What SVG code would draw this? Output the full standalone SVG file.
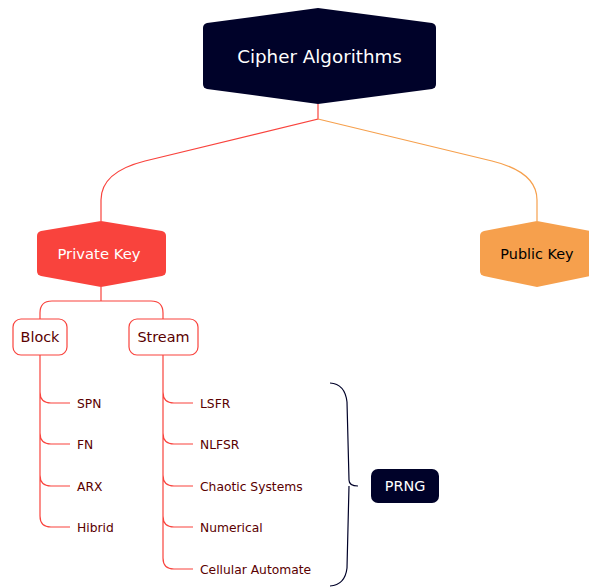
<svg xmlns="http://www.w3.org/2000/svg" width="589" height="587" viewBox="0 0 589 587">
<style>
text{font-family:"DejaVu Sans","Liberation Sans",sans-serif;}
.red{stroke:#f9433d;fill:none;stroke-width:1.2}
.org{stroke:#f6a04d;fill:none;stroke-width:1.2}
.leaf{font-size:12.3px;fill:#5a0000}
.sub{fill:#fff;stroke:#f9433d;stroke-width:1.2}
.subt{font-size:14.4px;fill:#5a0000;text-anchor:middle}
</style>
<rect width="589" height="587" fill="#fff"/>
<g id="connectors">
<path class="red" d="M318,104 V119 L145,161 Q101,172 101,200 V221"/>
<path class="org" d="M318,119 L492,161 Q537,172 537,200 V221"/>
<path class="red" d="M101,287 V301 H52 Q40,301 40,313 V319 M101,301 H151 Q163,301 163,313 V319"/>
<path class="red" d="M40,355 V392 Q40,403 51,403 H70 M40,392 V433 Q40,444 51,444 H70 M40,433 V475 Q40,486 51,486 H70 M40,475 V516 Q40,527 51,527 H70"/>
<path class="red" d="M163,355 V392 Q163,403 174,403 H193 M163,392 V433 Q163,444 174,444 H193 M163,433 V475 Q163,486 174,486 H193 M163,475 V516 Q163,527 174,527 H193 M163,516 V558 Q163,569 174,569 H193"/>
<path d="M330,383 Q345,384 347,402 L349,480 Q349,486 358,486 M349,486 L347,568 Q345,585 330,586" fill="none" stroke="#000229" stroke-width="1.2"/>
</g>
<g id="root">
<path d="M318,8 L432,23 Q436,24 436,28 V84 Q436,88 432,89 L318,104 L207,89 Q203,88 203,84 V28 Q203,24 207,23 Z" fill="#000229"/>
<text x="319.5" y="63" font-size="18.3" fill="#fff" text-anchor="middle">Cipher Algorithms</text>
</g>
<g id="private-key">
<path d="M101,221 L162,231 Q166,232 166,236 V271 Q166,275 162,276 L101,287 L41,276 Q37,275 37,271 V236 Q37,232 41,231 Z" fill="#f9433d"/>
<text x="99" y="259" font-size="14.8" fill="#fff" text-anchor="middle">Private Key</text>
</g>
<g id="public-key">
<path d="M537,221 L590,231 Q594,232 594,236 V271 Q594,275 590,276 L537,287 L484,276 Q480,275 480,271 V236 Q480,232 484,231 Z" fill="#f6a04d"/>
<text x="537" y="259" font-size="14.4" fill="#000" text-anchor="middle">Public Key</text>
</g>
<g id="block">
<rect class="sub" x="13" y="319" width="54" height="36" rx="8"/>
<text class="subt" x="40" y="342">Block</text>
</g>
<g id="stream">
<rect class="sub" x="129" y="319" width="69" height="36" rx="8"/>
<text class="subt" x="163.5" y="342">Stream</text>
</g>
<g id="spn"><text class="leaf" x="77" y="408">SPN</text></g>
<g id="fn"><text class="leaf" x="77" y="449">FN</text></g>
<g id="arx"><text class="leaf" x="77" y="491">ARX</text></g>
<g id="hibrid"><text class="leaf" x="77" y="532">Hibrid</text></g>
<g id="lsfr"><text class="leaf" x="200" y="408">LSFR</text></g>
<g id="nlfsr"><text class="leaf" x="200" y="449">NLFSR</text></g>
<g id="chaotic"><text class="leaf" x="200" y="491">Chaotic Systems</text></g>
<g id="numerical"><text class="leaf" x="200" y="532">Numerical</text></g>
<g id="cellular"><text class="leaf" x="200" y="574">Cellular Automate</text></g>
<g id="prng">
<rect x="371" y="469" width="68" height="34" rx="7" fill="#000229"/>
<text x="405" y="491" font-size="14.4" fill="#fff" text-anchor="middle">PRNG</text>
</g>
</svg>
